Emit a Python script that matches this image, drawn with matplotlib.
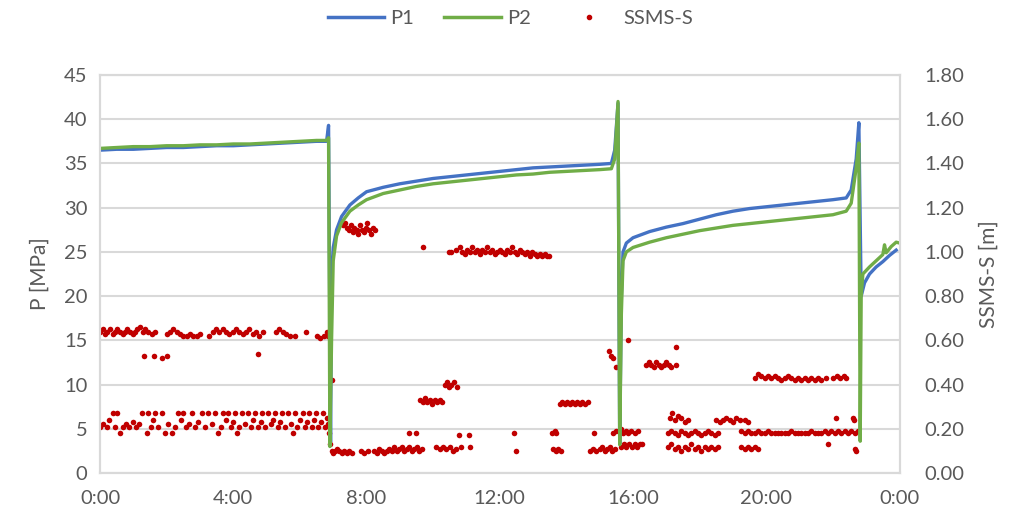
import matplotlib.pyplot as plt
from matplotlib.lines import Line2D

plt.rcParams["font.family"] = ["Lato", "DejaVu Sans"]

# pressure lines: hours since 0:00, MPa
p1_t = [0.0, 0.5, 1.0, 1.5, 2.0, 2.5, 3.0, 3.5, 4.0, 4.5, 5.0, 5.5, 6.0, 6.5, 6.80, 6.86,
        6.92, 6.95, 7.0, 7.1, 7.25, 7.5, 7.75, 8.0, 8.5, 9.0, 9.5, 10.0, 10.5, 11.0, 11.5,
        12.0, 12.5, 13.0, 13.5, 14.0, 14.5, 15.0, 15.35, 15.45, 15.55, 15.60, 15.65, 15.70,
        15.8, 16.0, 16.5, 17.0, 17.5, 18.0, 18.5, 19.0, 19.5, 20.0, 20.5, 21.0, 21.5, 22.0,
        22.4, 22.55, 22.7, 22.78, 22.85, 22.95, 23.1, 23.3, 23.5, 23.7, 23.9]
p1_v = [36.5, 36.6, 36.6, 36.7, 36.8, 36.8, 36.9, 37.0, 37.0, 37.1, 37.2, 37.3, 37.4, 37.5, 37.5, 39.3,
        3.5, 22.0, 25.5, 27.5, 29.0, 30.3, 31.1, 31.8, 32.3, 32.7, 33.0, 33.3, 33.5, 33.7, 33.9,
        34.1, 34.3, 34.5, 34.6, 34.7, 34.8, 34.9, 35.0, 36.5, 41.8, 3.3, 20.0, 25.0,
        26.0, 26.6, 27.3, 27.8, 28.2, 28.7, 29.2, 29.6, 29.9, 30.1, 30.3, 30.5, 30.7, 30.9,
        31.1, 32.0, 35.5, 39.6, 20.0, 21.5, 22.5, 23.3, 23.9, 24.6, 25.2]

p2_t = [0.0, 0.5, 1.0, 1.5, 2.0, 2.5, 3.0, 3.5, 4.0, 4.5, 5.0, 5.5, 6.0, 6.5, 6.80, 6.86,
        6.90, 6.95, 7.0, 7.1, 7.25, 7.5, 7.75, 8.0, 8.5, 9.0, 9.5, 10.0, 10.5, 11.0, 11.5,
        12.0, 12.5, 13.0, 13.5, 14.0, 14.5, 15.0, 15.35, 15.45, 15.55, 15.60, 15.65, 15.70,
        15.8, 16.0, 16.5, 17.0, 17.5, 18.0, 18.5, 19.0, 19.5, 20.0, 20.5, 21.0, 21.5, 22.0,
        22.4, 22.55, 22.7, 22.78, 22.82, 22.85, 22.9, 23.1, 23.3, 23.5, 23.55, 23.6, 23.75,
        23.9, 24.0]
p2_v = [36.7, 36.8, 36.9, 36.9, 37.0, 37.0, 37.1, 37.1, 37.2, 37.2, 37.3, 37.4, 37.5, 37.6, 37.6, 37.9,
        3.0, 15.0, 24.0, 26.8, 28.3, 29.6, 30.3, 30.9, 31.6, 32.0, 32.4, 32.7, 32.9, 33.1, 33.3,
        33.5, 33.7, 33.8, 34.0, 34.1, 34.2, 34.3, 34.4, 35.5, 42.0, 3.2, 18.0, 24.0,
        25.0, 25.5, 26.1, 26.6, 27.0, 27.4, 27.7, 28.0, 28.2, 28.4, 28.6, 28.8, 29.0, 29.2,
        29.6, 30.5, 34.5, 37.3, 3.6, 20.0, 22.5, 23.3, 24.0, 24.7, 25.8, 24.9, 25.6,
        26.1, 26.0]

# SSMS-S scatter clusters: (hours, m)
ssms_early_high = [
    (0.00, 0.64), (0.08, 0.65), (0.15, 0.63), (0.22, 0.64), (0.30, 0.65), (0.38, 0.63),
    (0.45, 0.64), (0.52, 0.65), (0.60, 0.64), (0.68, 0.63), (0.75, 0.64), (0.82, 0.65),
    (0.90, 0.64), (0.98, 0.63), (1.05, 0.64), (1.12, 0.65), (1.20, 0.66), (1.28, 0.64),
    (1.35, 0.65), (1.45, 0.64), (1.55, 0.63), (1.65, 0.64), (2.02, 0.63), (2.10, 0.64),
    (2.20, 0.65), (2.30, 0.64), (2.40, 0.63), (2.50, 0.62), (2.60, 0.62), (2.70, 0.63),
    (2.80, 0.62), (2.90, 0.62), (3.00, 0.63), (3.28, 0.62), (3.38, 0.64), (3.48, 0.65),
    (3.58, 0.64), (3.68, 0.65), (3.78, 0.64), (3.88, 0.63), (3.98, 0.64), (4.08, 0.65),
    (4.18, 0.64), (4.28, 0.63), (4.38, 0.64), (4.48, 0.65), (4.58, 0.63), (4.68, 0.64),
    (4.78, 0.62), (4.90, 0.64), (5.28, 0.64), (5.38, 0.65), (5.48, 0.64), (5.58, 0.63),
    (5.70, 0.62), (5.85, 0.62), (6.18, 0.64), (6.50, 0.62), (6.60, 0.61), (6.72, 0.62),
    (6.82, 0.64), (6.85, 0.62),
]
ssms_early_mid = [
    (1.32, 0.53), (1.62, 0.53), (1.86, 0.52), (2.00, 0.53), (4.75, 0.54), (6.95, 0.42),
]
ssms_early_low = [
    (0.00, 0.21), (0.10, 0.22), (0.20, 0.21), (0.28, 0.24), (0.39, 0.27), (0.45, 0.21),
    (0.51, 0.27), (0.60, 0.18), (0.68, 0.21), (0.78, 0.22), (0.88, 0.21), (0.98, 0.23),
    (1.08, 0.21), (1.18, 0.22), (1.26, 0.27), (1.40, 0.18), (1.44, 0.27), (1.52, 0.21),
    (1.60, 0.24), (1.65, 0.27), (1.75, 0.21), (1.86, 0.27), (1.95, 0.18), (2.05, 0.22),
    (2.15, 0.18), (2.25, 0.21), (2.35, 0.27), (2.42, 0.24), (2.50, 0.27), (2.58, 0.21),
    (2.68, 0.22), (2.77, 0.27), (2.85, 0.21), (2.95, 0.23), (3.07, 0.27), (3.15, 0.21),
    (3.25, 0.27), (3.35, 0.22), (3.46, 0.27), (3.55, 0.18), (3.62, 0.21), (3.70, 0.27),
    (3.78, 0.24), (3.85, 0.27), (3.92, 0.21), (4.00, 0.23), (4.06, 0.27), (4.10, 0.18),
    (4.18, 0.21), (4.27, 0.27), (4.35, 0.22), (4.45, 0.27), (4.52, 0.21), (4.60, 0.24),
    (4.66, 0.27), (4.75, 0.21), (4.82, 0.23), (4.87, 0.27), (4.95, 0.21), (5.05, 0.27),
    (5.12, 0.22), (5.20, 0.24), (5.26, 0.27), (5.33, 0.21), (5.40, 0.23), (5.47, 0.27),
    (5.55, 0.21), (5.65, 0.27), (5.72, 0.22), (5.80, 0.18), (5.86, 0.27), (5.92, 0.21),
    (6.00, 0.24), (6.08, 0.27), (6.15, 0.21), (6.22, 0.23), (6.26, 0.27), (6.35, 0.21),
    (6.42, 0.24), (6.47, 0.27), (6.55, 0.21), (6.62, 0.23), (6.68, 0.27), (6.75, 0.21),
    (6.80, 0.25), (6.85, 0.22), (6.88, 0.18), (6.90, 0.13),
]
ssms_mid_high = [
    (7.30, 1.12), (7.35, 1.13), (7.42, 1.11), (7.48, 1.10), (7.52, 1.12), (7.58, 1.09),
    (7.62, 1.11), (7.70, 1.10), (7.75, 1.08), (7.80, 1.12), (7.86, 1.10), (7.92, 1.09),
    (7.98, 1.11), (8.02, 1.13), (8.08, 1.10), (8.12, 1.08), (8.18, 1.11), (8.25, 1.10),
    (9.70, 1.02),
    (10.47, 1.00), (10.55, 1.00), (10.70, 1.01), (10.80, 1.02), (10.88, 1.00), (10.95, 0.99),
    (11.02, 1.01), (11.10, 1.00), (11.18, 1.02), (11.25, 1.00), (11.32, 1.01), (11.40, 0.99),
    (11.47, 1.01), (11.55, 1.00), (11.62, 1.02), (11.70, 1.00), (11.78, 1.01), (11.85, 0.99),
    (11.92, 1.00), (12.00, 1.01), (12.08, 1.00), (12.15, 0.99), (12.22, 1.01), (12.30, 1.00),
    (12.38, 1.02), (12.45, 1.00), (12.52, 0.99), (12.60, 1.01), (12.68, 1.00), (12.75, 0.99),
    (12.82, 1.00), (12.90, 0.98), (12.98, 1.00), (13.05, 0.99), (13.12, 0.98), (13.20, 0.99),
    (13.28, 0.98), (13.35, 0.99), (13.42, 0.98), (13.47, 0.98),
]
ssms_mid_low = [
    (6.95, 0.10), (7.00, 0.09), (7.05, 0.10), (7.12, 0.11), (7.18, 0.10), (7.25, 0.09),
    (7.32, 0.10), (7.40, 0.09), (7.48, 0.10), (7.55, 0.09), (7.82, 0.10), (7.92, 0.09),
    (8.05, 0.10), (8.22, 0.10), (8.30, 0.09), (8.38, 0.11), (8.45, 0.10), (8.52, 0.09),
    (8.60, 0.10), (8.68, 0.11), (8.75, 0.10), (8.82, 0.12), (8.90, 0.10), (8.98, 0.11),
    (9.05, 0.12), (9.12, 0.10), (9.20, 0.11), (9.28, 0.12), (9.35, 0.10), (9.42, 0.11),
    (9.50, 0.12), (9.58, 0.10), (9.65, 0.11), (9.26, 0.18), (9.47, 0.18),
    (10.10, 0.12), (10.20, 0.11), (10.30, 0.12), (10.40, 0.11), (10.50, 0.12), (10.60, 0.10),
    (10.70, 0.11), (10.85, 0.12), (10.77, 0.17), (11.07, 0.17), (11.10, 0.12),
    (12.42, 0.18), (12.50, 0.10), (13.58, 0.18), (13.65, 0.19), (13.70, 0.18),
    (13.60, 0.11), (13.68, 0.10), (13.75, 0.11), (13.85, 0.10), (14.83, 0.18),
    (14.72, 0.10), (14.80, 0.11), (14.90, 0.10), (15.00, 0.11), (15.08, 0.12), (15.15, 0.10),
    (15.22, 0.11), (15.30, 0.12), (15.38, 0.10), (15.45, 0.11), (15.40, 0.18), (15.50, 0.19),
    (15.63, 0.20), (15.70, 0.18), (15.78, 0.19), (15.85, 0.18), (15.95, 0.19), (16.05, 0.18),
    (16.15, 0.19), (15.65, 0.12), (15.72, 0.13), (15.80, 0.12), (15.88, 0.13), (15.96, 0.12),
    (16.05, 0.13), (16.12, 0.12), (16.20, 0.13), (16.28, 0.13),
]
ssms_mid_bands = [
    (9.60, 0.33), (9.68, 0.32), (9.75, 0.34), (9.82, 0.32), (9.90, 0.33), (9.98, 0.31),
    (10.05, 0.33), (10.12, 0.32), (10.20, 0.33), (10.28, 0.32),
    (10.35, 0.40), (10.42, 0.41), (10.48, 0.39), (10.55, 0.40), (10.62, 0.41), (10.72, 0.39),
    (13.80, 0.31), (13.88, 0.32), (13.95, 0.31), (14.02, 0.32), (14.10, 0.31), (14.18, 0.32),
    (14.25, 0.31), (14.32, 0.32), (14.40, 0.31), (14.48, 0.32), (14.55, 0.31), (14.65, 0.32),
    (15.28, 0.55), (15.35, 0.53), (15.40, 0.52), (15.50, 0.48), (15.85, 0.60),
]
ssms_late_mid = [
    (16.40, 0.49), (16.48, 0.50), (16.55, 0.49), (16.62, 0.48), (16.70, 0.50), (16.78, 0.49),
    (16.85, 0.48), (16.92, 0.49), (17.00, 0.50), (17.08, 0.49), (17.15, 0.48), (17.30, 0.57),
    (17.30, 0.49),
    (19.65, 0.43), (19.75, 0.45), (19.85, 0.44), (19.95, 0.43), (20.05, 0.44), (20.15, 0.43),
    (20.25, 0.44), (20.35, 0.43), (20.45, 0.42), (20.55, 0.43), (20.65, 0.44), (20.75, 0.43),
    (20.85, 0.42), (20.95, 0.43), (21.05, 0.42), (21.15, 0.43), (21.25, 0.42), (21.35, 0.43),
    (21.45, 0.42), (21.55, 0.43), (21.65, 0.42), (21.80, 0.43), (22.00, 0.43), (22.12, 0.44),
    (22.22, 0.43), (22.32, 0.44), (22.40, 0.43),
]
ssms_late_low = [
    (17.10, 0.25), (17.18, 0.27), (17.25, 0.24), (17.35, 0.26), (17.45, 0.25), (17.55, 0.23),
    (17.65, 0.24), (18.50, 0.24), (18.60, 0.23), (18.70, 0.24), (18.80, 0.25), (18.90, 0.24),
    (19.00, 0.23), (19.10, 0.25), (19.20, 0.24), (19.35, 0.24), (19.45, 0.23),
    (17.05, 0.18), (17.15, 0.19), (17.25, 0.18), (17.35, 0.17), (17.45, 0.19), (17.55, 0.18),
    (17.65, 0.17), (17.75, 0.18), (17.85, 0.19), (17.95, 0.18), (18.05, 0.17), (18.15, 0.18),
    (18.25, 0.19), (18.35, 0.18), (18.45, 0.17), (18.55, 0.18),
    (17.05, 0.12), (17.15, 0.13), (17.25, 0.11), (17.35, 0.12), (17.45, 0.10), (17.55, 0.12),
    (17.65, 0.11), (17.75, 0.13), (17.85, 0.11), (17.95, 0.12), (18.05, 0.10), (18.15, 0.12),
    (18.25, 0.11), (18.35, 0.12), (18.45, 0.11), (18.55, 0.12),
    (19.25, 0.12), (19.35, 0.11), (19.45, 0.12), (19.55, 0.11), (19.65, 0.12), (19.75, 0.11),
    (19.25, 0.19), (19.35, 0.18), (19.45, 0.19), (19.55, 0.18), (19.65, 0.18), (19.75, 0.19),
    (19.85, 0.18), (19.95, 0.18), (20.05, 0.19), (20.15, 0.18), (20.25, 0.18), (20.35, 0.18),
    (20.45, 0.18), (20.55, 0.18), (20.65, 0.18), (20.75, 0.19), (20.85, 0.18), (20.95, 0.18),
    (21.05, 0.18), (21.15, 0.18), (21.25, 0.18), (21.35, 0.19), (21.45, 0.18), (21.55, 0.18),
    (21.65, 0.18), (21.75, 0.19), (21.85, 0.18), (21.95, 0.19), (22.05, 0.18), (22.15, 0.19),
    (22.25, 0.18), (22.35, 0.19), (22.45, 0.18), (22.55, 0.19), (22.65, 0.18), (22.75, 0.19),
    (22.10, 0.25), (22.60, 0.25), (22.62, 0.24), (21.86, 0.13), (22.65, 0.11), (22.68, 0.10),
]

ssms = (ssms_early_high + ssms_early_mid + ssms_early_low + ssms_mid_high + ssms_mid_low
        + ssms_mid_bands + ssms_late_mid + ssms_late_low)
ssms_t = [p[0] for p in ssms]
ssms_m = [p[1] for p in ssms]

x_ticks = [0, 4, 8, 12, 16, 20, 24]
x_labels = ["0:00", "4:00", "8:00", "12:00", "16:00", "20:00", "0:00"]

txt = "#595959"
grid = "#d9d9d9"

fig = plt.figure(figsize=(10.21, 5.17), dpi=100)
ax = fig.add_axes([0.098, 0.085, 0.783, 0.770])
ax2 = ax.twinx()

# scatter axis goes behind the lines, grid drawn on it
ax2.set_zorder(ax.get_zorder() - 1)
ax.patch.set_visible(False)

ax2.scatter(ssms_t, ssms_m, s=16, color="#C00000", linewidths=0)
ax.plot(p1_t, p1_v, color="#4472C4", lw=2.4)
ax.plot(p2_t, p2_v, color="#70AD47", lw=2.4)

ax.set_xlim(0, 24)
ax.set_ylim(0, 45)
ax2.set_ylim(0, 1.8)
ax.set_xticks(x_ticks)
ax.set_xticklabels(x_labels)
ax.set_yticks(range(0, 46, 5))
ax2.set_yticks([i * 0.2 for i in range(10)])
ax2.set_yticklabels(["%.2f" % (i * 0.2) for i in range(10)])

ax2.set_xticks(x_ticks)
ax2.grid(True, color=grid, lw=1.5)
ax2.set_axisbelow(True)

for a in (ax, ax2):
    for s in a.spines.values():
        s.set_color(grid)
        s.set_linewidth(1.5)
    a.tick_params(length=0, labelsize=14.5, labelcolor=txt)
ax.tick_params(axis="y", pad=9)
ax.tick_params(axis="x", pad=12)
ax2.tick_params(axis="y", pad=18)

ax.set_ylabel("P [MPa]", fontsize=15, color=txt, labelpad=10)
ax2.set_ylabel("SSMS-S [m]", fontsize=15, color=txt, labelpad=10)

handles = [Line2D([], [], color="#4472C4", lw=2.5),
           Line2D([], [], color="#70AD47", lw=2.5),
           Line2D([], [], color="#C00000", marker="o", ls="", markersize=3)]
fig.legend(handles, ["P1", "P2", "SSMS-S"], loc="center", bbox_to_anchor=(0.5, 0.965),
           ncol=3, frameon=False, fontsize=14.5, labelcolor=txt, handlelength=2.8,
           columnspacing=1.5, handletextpad=0.3)

fig.savefig("out.png", dpi=100)
